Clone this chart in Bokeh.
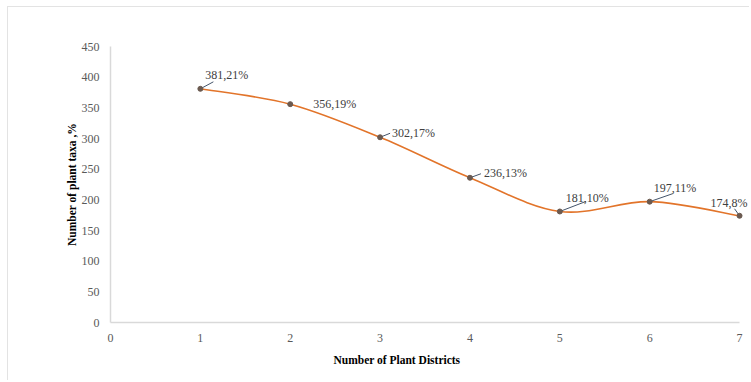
from bokeh.plotting import figure
from bokeh.models import Range1d, Label, FixedTicker, Title
from bokeh.embed import file_html
from bokeh.resources import INLINE

# ---- data ----
districts = [1, 2, 3, 4, 5, 6, 7]
taxa = [381, 356, 302, 236, 181, 197, 174]
pct_labels = ["381,21%", "356,19%", "302,17%", "236,13%", "181,10%", "197,11%", "174,8%"]
x_ticks = [0, 1, 2, 3, 4, 5, 6, 7]
y_ticks = [0, 50, 100, 150, 200, 250, 300, 350, 400, 450]

# label placement (screen pixels, relative to the point)
lab_dx = [5, 23, 12, 14, 6, 4, -29]
lab_dy = [14, 0, 4, 5, 13, 14, 13]
# leader end (screen pixels, relative to point); 0 = no leader
lead_dx = [13, 0, 10, 11, 26, 23, -5]
lead_dy = [7, 0, 4, 4, 10, 8, 7]

FONT = "Liberation Serif"
W, H = 742, 374
MB_L, MB_R, MB_T, MB_B = 102, 0, 39, 59
X_END = 7.122  # frame runs a little past the last district, axis line stops at 7
p = figure(width=W, height=H, output_backend="svg", toolbar_location=None,
           x_range=Range1d(0, X_END), y_range=Range1d(0, 450),
           min_border_left=MB_L, min_border_right=MB_R, min_border_top=MB_T, min_border_bottom=MB_B)
p.styles = {"margin-left": "7px", "margin-top": "6px",
            "border-top": "1px solid #e3e3e3", "border-left": "1px solid #e3e3e3"}
p.outline_line_color = None
p.grid.grid_line_color = None
p.background_fill_color = "white"

# pixel scale (for converting styling offsets into data units)
px_x = (W - MB_L - MB_R) / X_END
px_y = (H - MB_T - MB_B) / 450.0

# smooth curve: Catmull-Rom converted to cubic Bezier (control points from the data)
n = len(taxa)
x0, y0, x1, y1, cx0, cy0, cx1, cy1 = [], [], [], [], [], [], [], []
for i in range(n - 1):
    pm = i - 1 if i > 0 else i
    pp = i + 2 if i + 2 < n else i + 1
    x0.append(districts[i]); y0.append(taxa[i])
    x1.append(districts[i + 1]); y1.append(taxa[i + 1])
    cx0.append(districts[i] + (districts[i + 1] - districts[pm]) / 6.0)
    cy0.append(taxa[i] + (taxa[i + 1] - taxa[pm]) / 6.0)
    cx1.append(districts[i + 1] - (districts[pp] - districts[i]) / 6.0)
    cy1.append(taxa[i + 1] - (taxa[pp] - taxa[i]) / 6.0)
p.bezier(x0=x0, y0=y0, x1=x1, y1=y1, cx0=cx0, cy0=cy0, cx1=cx1, cy1=cy1,
         line_color="#E2742A", line_width=1.6)

# leader lines
lx0, ly0, lx1, ly1 = [], [], [], []
for i in range(n):
    if lead_dx[i] == 0 and lead_dy[i] == 0:
        continue
    lx0.append(districts[i]); ly0.append(taxa[i])
    lx1.append(districts[i] + lead_dx[i] / px_x); ly1.append(taxa[i] + lead_dy[i] / px_y)
p.segment(x0=lx0, y0=ly0, x1=lx1, y1=ly1, line_color="#44546A", line_width=1)

p.scatter(districts, taxa, size=5, fill_color="#6b5a50", line_color="#6b5a50")

# data labels
for i in range(n):
    p.add_layout(Label(x=districts[i], y=taxa[i], text=pct_labels[i],
                       x_offset=lab_dx[i], y_offset=lab_dy[i],
                       text_font=FONT, text_font_size="12px", text_color="#404040",
                       text_align="left", text_baseline="middle"))

for ax in (p.xaxis[0], p.yaxis[0]):
    ax.axis_line_color = "#d9d9d9"
    ax.axis_line_width = 1.5
    ax.major_tick_line_color = None
    ax.minor_tick_line_color = None
    ax.major_label_text_font = FONT
    ax.major_label_text_font_size = "12px"
    ax.major_label_text_color = "#595959"
    ax.axis_label_text_font = FONT
    ax.axis_label_text_font_style = "bold"
    ax.axis_label_text_font_size = "11.5px"
    ax.axis_label_text_color = "#000000"

p.xaxis.bounds = (0, 7)
p.xaxis.ticker = FixedTicker(ticks=x_ticks)
p.yaxis.ticker = FixedTicker(ticks=y_ticks)
p.xaxis.major_label_standoff = 5
p.yaxis.major_label_standoff = 5
p.yaxis.axis_label = "Number of plant taxa ,%"
p.yaxis.axis_label_standoff = 1

p.add_layout(Title(text="Number of Plant Districts", align="left", offset=223,
                   text_font=FONT, text_font_style="bold", text_font_size="11.5px",
                   text_color="#000000", standoff=14), "below")

open("out.html", "w").write(file_html(p, INLINE))
